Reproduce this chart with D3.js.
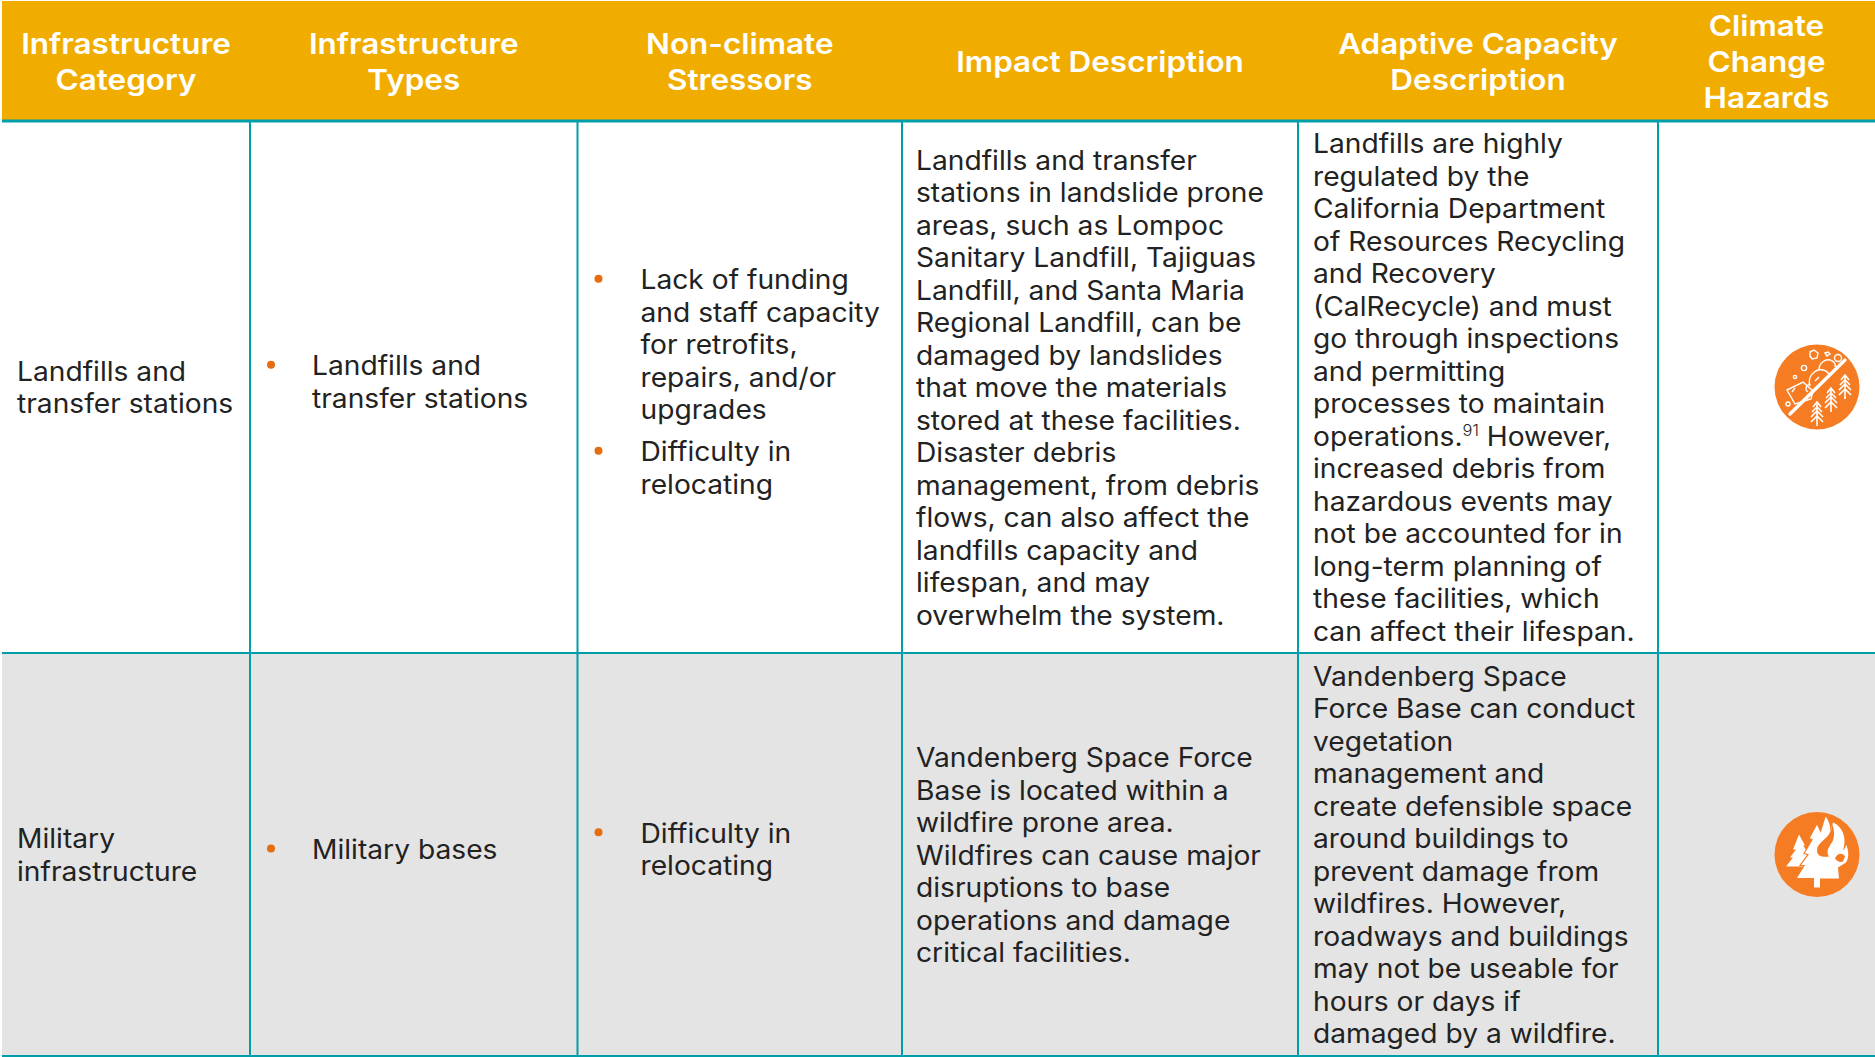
<!DOCTYPE html>
<html><head><meta charset="utf-8">
<script src="https://cdn.jsdelivr.net/npm/d3@7"></script>
<style>html,body{margin:0;padding:0;background:#fff}svg{display:block}</style>
</head><body><svg id="t"></svg>
<script>
const headers = [
  ["Infrastructure","Category"],["Infrastructure","Types"],["Non-climate","Stressors"],
  ["Impact Description"],["Adaptive Capacity","Description"],["Climate","Change","Hazards"]];
const rowCategories = [["Landfills and","transfer stations"],["Military","infrastructure"]];
const rowTypes = [[["Landfills and","transfer stations"]],[["Military bases"]]];
const rowStressors = [
  [["Lack of funding","and staff capacity","for retrofits,","repairs, and/or","upgrades"],["Difficulty in","relocating"]],
  [["Difficulty in","relocating"]]];
const rowImpacts = [
  ["Landfills and transfer","stations in landslide prone","areas, such as Lompoc","Sanitary Landfill, Tajiguas","Landfill, and Santa Maria","Regional Landfill, can be","damaged by landslides","that move the materials","stored at these facilities.","Disaster debris","management, from debris","flows, can also affect the","landfills capacity and","lifespan, and may","overwhelm the system."],
  ["Vandenberg Space Force","Base is located within a","wildfire prone area.","Wildfires can cause major","disruptions to base","operations and damage","critical facilities."]];
const rowCapacity = [
  ["Landfills are highly","regulated by the","California Department","of Resources Recycling","and Recovery","(CalRecycle) and must","go through inspections","and permitting","processes to maintain","operations.^91^ However,","increased debris from","hazardous events may","not be accounted for in","long-term planning of","these facilities, which","can affect their lifespan."],
  ["Vandenberg Space","Force Base can conduct","vegetation","management and","create defensible space","around buildings to","prevent damage from","wildfires. However,","roadways and buildings","may not be useable for","hours or days if","damaged by a wildfire."]];
const rowHazards = ["landslide","wildfire"];

const W=1875,H=1057;
const colEdges=[2,250,577.5,902,1298,1658,1875];
const rowEdges=[121,653,1056];
const TEAL="#009EA8",GOLD="#F0AD00",GRAY="#E4E4E4",ORANGE="#F57C22",BULLET="#E56D10",INK="#222222";
const FONT="Inter, 'Open Sans', sans-serif";
const BODY=26.6, LH=32.5, HEAD=29, HLH=36, BODY_SX=1.06, HEAD_SX=1.085, ITEM_GAP=9.5, NUDGE=0.6;

const svg=d3.select("#t").attr("width",W).attr("height",H).attr("viewBox",`0 0 ${W} ${H}`).style("font-family",FONT);
svg.append("rect").attr("width",W).attr("height",H).attr("fill","#fff");
svg.append("rect").attr("x",2).attr("y",1).attr("width",W-2).attr("height",rowEdges[0]-1).attr("fill",GOLD);
svg.append("rect").attr("x",2).attr("y",rowEdges[1]).attr("width",W-2).attr("height",rowEdges[2]-rowEdges[1]).attr("fill",GRAY);

// grid
const grid=svg.append("g").attr("stroke",TEAL);
grid.selectAll("line.v").data(colEdges.slice(1,-1)).join("line").attr("x1",d=>d).attr("x2",d=>d).attr("y1",rowEdges[0]).attr("y2",rowEdges[2]).attr("stroke-width",2);
grid.selectAll("line.h").data(rowEdges).join("line").attr("x1",2).attr("x2",W).attr("y1",d=>d).attr("y2",d=>d).attr("stroke-width",(d,i)=>i==0?3:2);

function putLine(g,str,x,y,size,anchor,sx){
  const t=g.append("text").attr("transform",`translate(${x},${y}) scale(${sx},1)`).attr("text-anchor",anchor).attr("dy","0.36em").attr("font-size",size);
  str.split("^").forEach((p,i)=>{
    if(i%2){t.append("tspan").attr("font-size",size*0.58).attr("font-weight",300).attr("dy",-size*0.36).text(p);}
    else{const s=t.append("tspan").text(p); if(i>0)s.attr("dy",size*0.36);}
  });
  return t;
}
// header
const hg=svg.append("g").attr("fill","#fff").attr("font-weight",600);
headers.forEach((ls,c)=>{
  const cx=(colEdges[c]+colEdges[c+1])/2, cy=61.5;
  ls.forEach((l,i)=>putLine(hg,l,cx,cy+(i-(ls.length-1)/2)*HLH,HEAD,"middle",HEAD_SX));
});
const bg=svg.append("g").attr("fill",INK);
function plain(lines,c,r,pad){
  const cy=(rowEdges[r]+rowEdges[r+1])/2+NUDGE;
  lines.forEach((l,i)=>putLine(bg,l,colEdges[c]+pad,cy+(i-(lines.length-1)/2)*LH,BODY,"start",BODY_SX));
}
function bullets(items,c,r,dotPad,textPad){
  const n=d3.sum(items,d=>d.length);
  const total=(n-1)*LH+(items.length-1)*ITEM_GAP;
  let y=(rowEdges[r]+rowEdges[r+1])/2-5-total/2;
  items.forEach(it=>{
    it.forEach((l,j)=>{
      if(j==0) svg.append("circle").attr("cx",colEdges[c]+dotPad).attr("cy",y-1).attr("r",4).attr("fill",BULLET);
      putLine(bg,l,colEdges[c]+textPad,y,BODY,"start",BODY_SX);
      y+=LH;
    });
    y+=ITEM_GAP;
  });
}
rowCategories.forEach((d,r)=>plain(d,0,r,15));
rowTypes.forEach((d,r)=>bullets(d,1,r,21,62));
rowStressors.forEach((d,r)=>bullets(d,2,r,21,63));
rowImpacts.forEach((d,r)=>plain(d,3,r,14));
rowCapacity.forEach((d,r)=>plain(d,4,r,15));

// icons
function tree(g,x,y){
  const t=g.append("g").attr("transform",`translate(${x},${y})`).attr("fill","none").attr("stroke","#fff").attr("stroke-width",1.6);
  t.append("path").attr("d","M0,-13V11M-4,-8L0,-13L4,-8M-5,-3L0,-8L5,-3M-6,2L0,-4L6,2M-6,7L0,1L6,7");
}
function landslide(g){
  g.append("path").attr("d","M-27,27L28,-27").attr("stroke","#fff").attr("stroke-width",3.4).attr("stroke-linecap","round");
  tree(g,0,28);tree(g,14,14);tree(g,28,1);
  const r=g.append("g").attr("fill","none").attr("stroke","#fff").attr("stroke-width",1.4);
  r.append("path").attr("d","M-30,3L-14,-5L-4,4L-6,12L-22,17L-26,10Z");
  r.append("path").attr("d","M-25,5L-22,1");
  r.append("path").attr("d","M-8,-3C-12,0 -12,3 -9,5");
  r.append("path").attr("d","M-7,-1C-9,-8 -6,-14 1,-17C6,-18 10,-16 12,-13");
  r.append("path").attr("d","M-2,-6L2,-10");
  r.append("path").attr("d","M2,-17C2,-24 8,-28 13,-27C17,-26 19,-23 18,-20");
  r.append("circle").attr("cx",21).attr("cy",-29).attr("r",3.5);
  r.append("path").attr("d","M-7,-35L-3,-37L1,-34L0,-29L-5,-28L-7,-31Z");
  r.append("path").attr("d","M8,-34L11,-35L13,-33L10,-31Z");
  r.append("circle").attr("cx",-13).attr("cy",-19).attr("r",2.6);
  r.append("circle").attr("cx",-22).attr("cy",-10).attr("r",1.6);
  r.append("circle").attr("cx",-29).attr("cy",17).attr("r",2);
}
function wildfire(g){
  g.append("path").attr("fill","#fff").attr("d","M-18,-20L-12,-9L-14,-9L-9,-2L-12,-2L-6,5L-12,12L-20,12L-31,12L-24,3L-27,3L-21,-5L-24,-5Z");
  g.append("path").attr("fill","#fff").attr("stroke",ORANGE).attr("stroke-width",1.2).attr("d","M0,-31L8,-14L12,24L3,24L3,33L-3,33L-3,24L-21,24L-13,11L-17,11L-9,0L-13,-1L-5,-15L-8,-16Z");
  g.append("path").attr("fill","#fff").attr("d","M3,33L-3,33L-3,20L3,20Z");
  g.append("path").attr("fill","#fff").attr("d","M8.7,-38C14,-30 14,-25 12,-20L16,-32C26,-28 30,-16 26,-4C28,-6 29,-8 29,-10C32,-4 32,4 29,8L21,13L22,24L0,24L0,-10Z");
  g.append("path").attr("fill",ORANGE).attr("d","M13,-22C9,-14 0,-12 0,-4C0,2 6,3 12,2C8,-3 13,-9 16,-14C18,-20 17,-26 15,-31C15,-27 14,-25 13,-22Z");
  g.append("path").attr("fill",ORANGE).attr("d","M18,4C20,-2 26,-2 28,2L26,7C23,8 20,7 18,4Z");
}
const draw={landslide,wildfire};
rowHazards.forEach((h,r)=>{
  const cx=1817,cy=(rowEdges[r]+rowEdges[r+1])/2;
  const g=svg.append("g").attr("transform",`translate(${cx},${cy})`);
  g.append("circle").attr("r",42.5).attr("fill",ORANGE);
  draw[h](g);
});
</script></body></html>
